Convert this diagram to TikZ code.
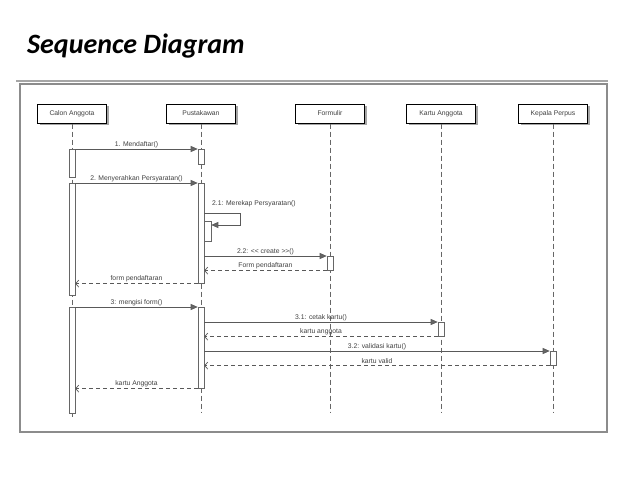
\documentclass[tikz,border=0pt]{standalone}
\usepackage{fontspec}
\newfontfamily\labfont{Liberation Sans}
\newfontfamily\titlefont{Carlito}
\usetikzlibrary{arrows.meta,shadows}
\begin{document}
\begin{tikzpicture}[x=1pt,y=-1pt,
  lab/.style={font=\labfont\fontsize{6.8}{8}\selectfont, text=black!75},
  head/.style={draw=black, line width=1pt, fill=white, minimum width=69, minimum height=19, inner sep=1, lab,
     text height=5pt, text depth=1.5pt,
     drop shadow={shadow xshift=2pt, shadow yshift=-2pt, fill=black!35, opacity=1}},
  act/.style={draw=black!60, line width=0.6pt, fill=white, minimum width=6, minimum height=#1, anchor=north, inner sep=0},
  life/.style={draw=black!60, line width=0.6pt, dash pattern=on 5pt off 3pt},
  msg/.style={draw=black!65, line width=0.7pt, -{Triangle[length=7pt,width=6pt,fill=black!60]}},
  ret/.style={draw=black!65, line width=0.7pt, dash pattern=on 4pt off 3pt, -{Straight Barb[length=3pt,width=7pt]}},
  mlab/.style={lab, above, inner sep=1.2pt}
]
\useasboundingbox (0,0) rectangle (638,479);
% title
\node[anchor=base west, inner sep=0, font=\titlefont\bfseries\itshape\fontsize{28}{32}\selectfont] (title) at (27,53) {Sequence Diagram};
% frame
\draw[black!35, line width=2pt] (16,81) -- (608,81);
\draw[black!45, line width=1.2pt] (20,84) rectangle (607,432);
% heads
\node[head] (ca) at (72,113.5) {Calon Anggota};
\node[head] (pu) at (201,113.5) {Pustakawan};
\node[head] (fo) at (330,113.5) {Formulir};
\node[head] (ka) at (441,113.5) {Kartu Anggota};
\node[head] (kp) at (553,113.5) {Kepala Perpus};
% lifeline ends
\coordinate (caE) at (72,418);
\coordinate (puE) at (201,413);
\coordinate (foE) at (330,413);
\coordinate (kaE) at (441,413);
\coordinate (kpE) at (553,413);
\draw[life] (ca.south) -- (caE);
\draw[life] (pu.south) -- (puE);
\draw[life] (fo.south) -- (foE);
\draw[life] (ka.south) -- (kaE);
\draw[life] (kp.south) -- (kpE);
% activations
\node[act=28] (ca1) at (72,149) {};
\node[act=112] (ca2) at (72,183) {};
\node[act=106] (ca3) at (72,307) {};
\node[act=15] (pu1) at (201,149) {};
\node[act=100] (pu2) at (201,183) {};
\node[act=81] (pu3) at (201,307) {};
\node[act=20, minimum width=7] (pu2b) at (207.5,221) {};
\node[act=14] (fo1) at (330,256) {};
\node[act=14] (ka1) at (441,322) {};
\node[act=14] (kp1) at (553,351) {};
% messages
\draw[msg] (ca1.north east) -- node[mlab]{1. Mendaftar()} (pu1.north west);
\draw[msg] (ca2.north east) -- node[mlab]{2. Menyerahkan Persyaratan()} (pu2.north west);
\coordinate (s1) at (204,213);
\coordinate (s2) at (240,213);
\coordinate (s3) at (240,225);
\draw[msg] (s1) -- (s2) -- (s3) -- (pu2b.east |- s3);
\node[lab, anchor=south west, inner sep=0] (l21) at (212,207) {2.1: Merekap Persyaratan()};
\draw[msg] (pu2.east |- fo1.north) -- node[mlab]{2.2: << create >>()} (fo1.north west);
\draw[ret] (fo1.south west) -- node[mlab]{Form pendaftaran} (pu2.east |- fo1.south);
\draw[ret] (pu2.south west) -- node[mlab]{form pendaftaran} (ca2.east |- pu2.south);
\draw[msg] (ca3.north east) -- node[mlab]{3: mengisi form()} (pu3.north west);
\draw[msg] (pu3.east |- ka1.north) -- node[mlab]{3.1: cetak kartu()} (ka1.north west);
\draw[ret] (ka1.south west) -- node[mlab]{kartu anggota} (pu3.east |- ka1.south);
\draw[msg] (pu3.east |- kp1.north) -- node[mlab]{3.2: validasi kartu()} (kp1.north west);
\draw[ret] (kp1.south west) -- node[mlab]{kartu valid} (pu3.east |- kp1.south);
\draw[ret] (pu3.south west) -- node[mlab]{kartu Anggota} (ca3.east |- pu3.south);
\end{tikzpicture}
\end{document}
